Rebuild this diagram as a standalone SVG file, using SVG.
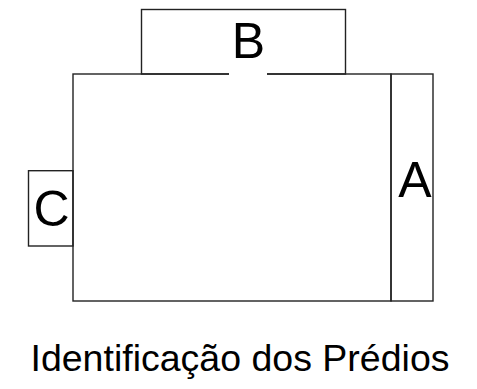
<svg xmlns="http://www.w3.org/2000/svg" width="477" height="389" viewBox="0 0 477 389">
<style>
.box{fill:none;stroke:#222;stroke-width:1.4}
.lbl{font-family:"Liberation Sans",Arial,sans-serif;font-size:50px;fill:#000;text-anchor:middle}
.cap{font-family:"Liberation Sans",Arial,sans-serif;font-size:37.5px;fill:#000;text-anchor:middle}
</style>
<rect width="477" height="389" fill="#fff"/>
<g id="main"><rect class="box" x="73" y="74" width="318" height="227"/></g>
<g id="A"><rect class="box" x="391" y="74" width="42" height="227"/><text class="lbl" x="415" y="197">A</text></g>
<g id="B"><rect class="box" x="141.5" y="9.5" width="204" height="64.5"/><rect x="229" y="20" width="38" height="55.5" fill="#fff"/><text class="lbl" x="248.5" y="57.5">B</text></g>
<g id="C"><rect class="box" x="28.5" y="170.7" width="44.5" height="75.3"/><text class="lbl" x="51.5" y="225.5">C</text></g>
<g id="caption"><text class="cap" x="240" y="371">Identificação dos Prédios</text></g>
</svg>
